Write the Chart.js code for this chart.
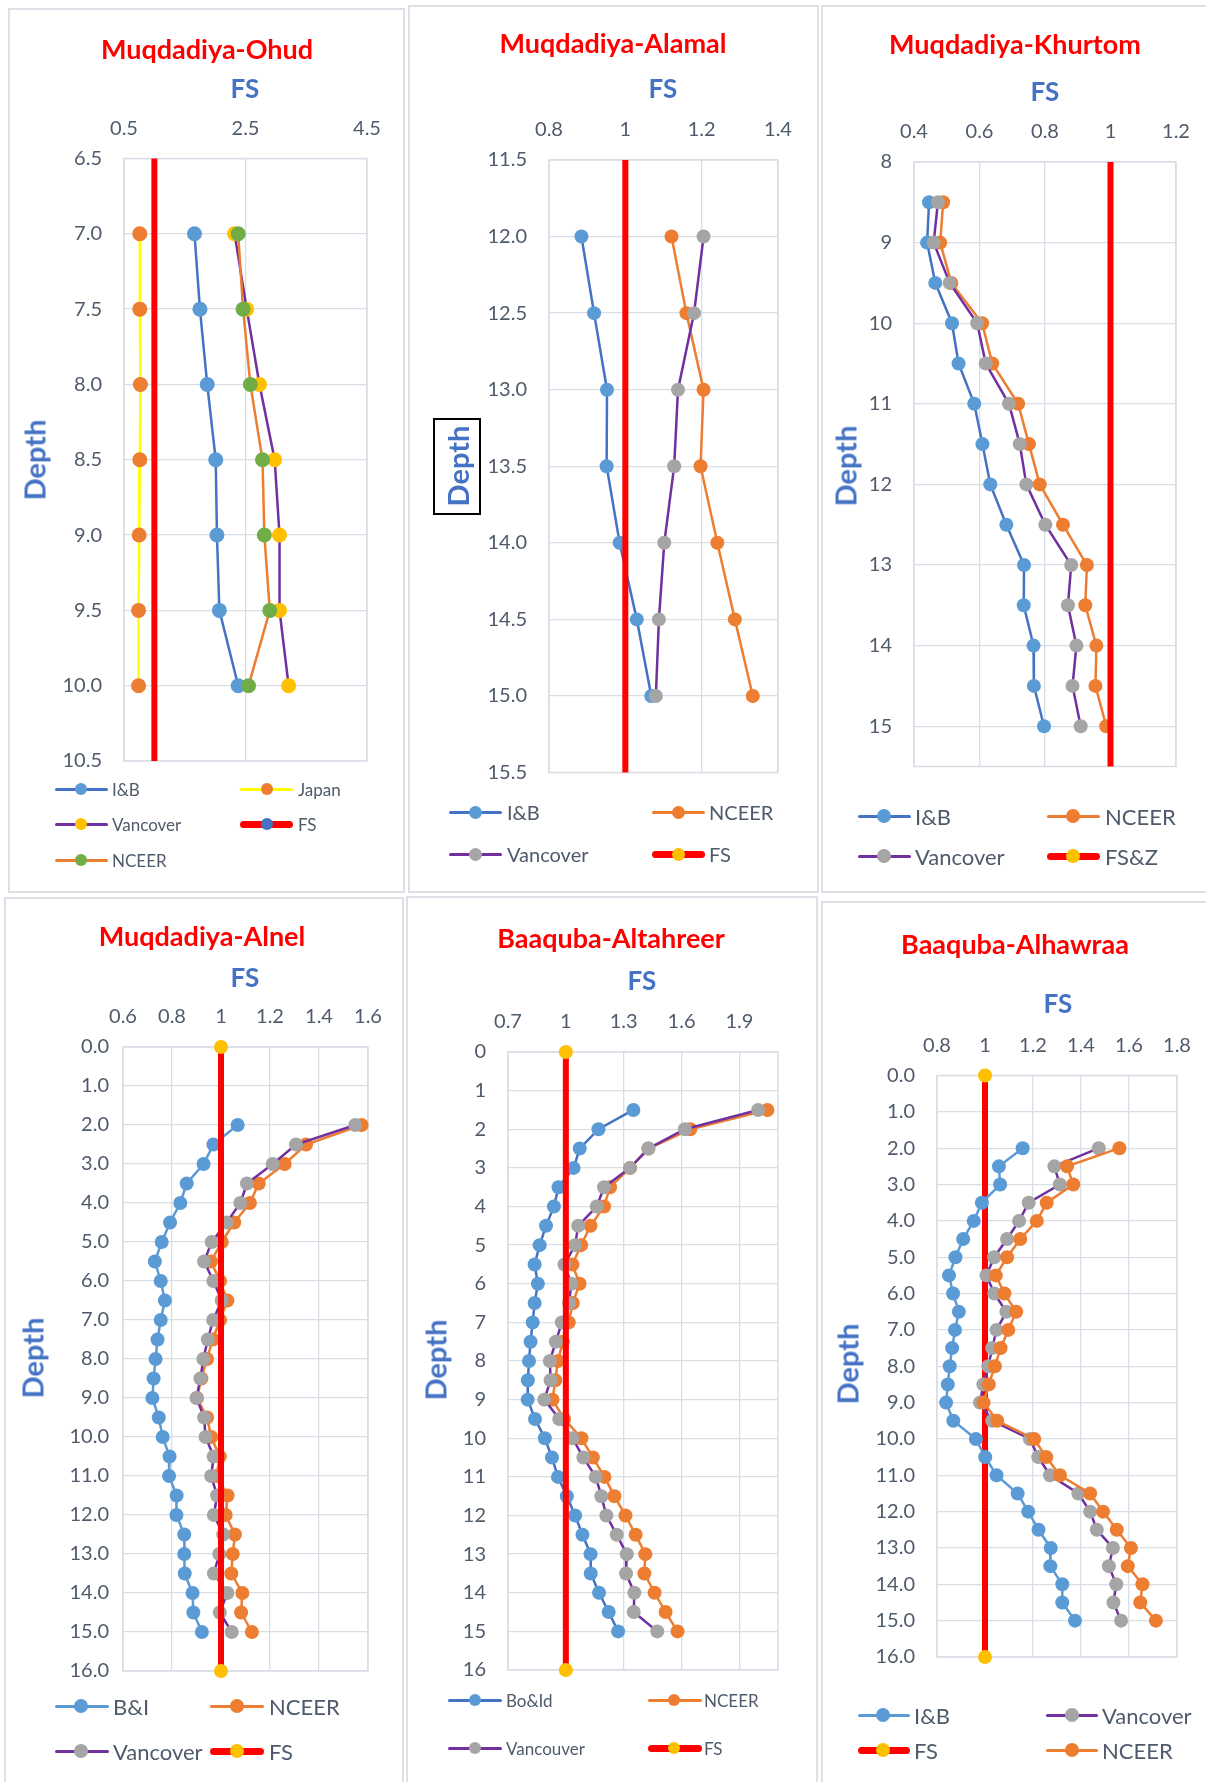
<!DOCTYPE html>
<html>
<head>
<meta charset="utf-8">
<script src="https://cdn.jsdelivr.net/npm/chart.js@4/dist/chart.umd.min.js"></script>
<style>
  html, body { margin: 0; padding: 0; background: #fff; }
  body { width: 1206px; height: 1782px; position: relative; overflow: hidden; font-family: Lato, "Open Sans", sans-serif; }
  .panel { position: absolute; border: 2px solid #DCE0E6; box-sizing: border-box; background: #fff; }
  canvas { position: absolute; }
  .title { position: absolute; transform: translate(-50%, -50%); color: #FF0000; font-weight: bold; font-size: 27px; white-space: nowrap; }
  .axt { position: absolute; transform: translate(-50%, -50%); color: #4472C4; font-weight: bold; font-size: 26px; white-space: nowrap; }
  .dep { position: absolute; transform: translate(-50%, -50%) rotate(-90deg); color: #4472C4; font-weight: bold; font-size: 29px; white-space: nowrap; }
  .depbox { position: absolute; border: 2px solid #000; box-sizing: border-box; }
  .lg { position: absolute; }
  .lgt { position: absolute; transform: translateY(-50%); color: #4F5A6B; white-space: nowrap; }
</style>
</head>
<body>
<script>
// ---------- Muqdadiya-Ohud ----------
const ohudDepth    = [7.0, 7.5, 8.0, 8.5, 9.0, 9.5, 10.0];
const ohudIB       = [1.66, 1.75, 1.87, 2.01, 2.03, 2.07, 2.38];
const ohudJapan    = [0.76, 0.76, 0.77, 0.76, 0.75, 0.74, 0.74];
const ohudVancover = [2.32, 2.52, 2.73, 2.98, 3.06, 3.06, 3.21];
const ohudNCEER    = [2.38, 2.46, 2.58, 2.78, 2.81, 2.90, 2.55];
const ohudFSDepth  = [6.5, 10.5];
const ohudFS       = [1, 1];
const ohudFsTicks    = [0.5, 2.5, 4.5];
const ohudDepthTicks = [6.5, 7.0, 7.5, 8.0, 8.5, 9.0, 9.5, 10.0, 10.5];

// ---------- Muqdadiya-Alamal ----------
const alamalDepth    = [12.0, 12.5, 13.0, 13.5, 14.0, 14.5, 15.0];
const alamalIB       = [0.885, 0.918, 0.952, 0.951, 0.985, 1.030, 1.068];
const alamalNCEER    = [1.121, 1.160, 1.205, 1.197, 1.241, 1.287, 1.334];
const alamalVancover = [1.205, 1.180, 1.138, 1.128, 1.102, 1.088, 1.080];
const alamalFSDepth  = [11.5, 15.5];
const alamalFS       = [1, 1];
const alamalFsTicks    = [0.8, 1, 1.2, 1.4];
const alamalDepthTicks = [11.5, 12.0, 12.5, 13.0, 13.5, 14.0, 14.5, 15.0, 15.5];

// ---------- Muqdadiya-Khurtom ----------
const khurtomDepth    = [8.5, 9.0, 9.5, 10.0, 10.5, 11.0, 11.5, 12.0, 12.5, 13.0, 13.5, 14.0, 14.5, 15.0];
const khurtomIB       = [0.446, 0.440, 0.465, 0.516, 0.536, 0.584, 0.609, 0.633, 0.682, 0.736, 0.735, 0.765, 0.766, 0.797];
const khurtomNCEER    = [0.489, 0.480, 0.514, 0.608, 0.639, 0.718, 0.751, 0.784, 0.855, 0.928, 0.923, 0.957, 0.954, 0.987];
const khurtomVancover = [0.473, 0.460, 0.509, 0.593, 0.619, 0.690, 0.723, 0.743, 0.801, 0.880, 0.870, 0.896, 0.884, 0.909];
const khurtomFSDepth  = [8, 15.5];
const khurtomFS       = [1, 1];
const khurtomFsTicks    = [0.4, 0.6, 0.8, 1, 1.2];
const khurtomDepthTicks = [8, 9, 10, 11, 12, 13, 14, 15];

// ---------- Muqdadiya-Alnel ----------
const alnelDepth    = [2.0, 2.5, 3.0, 3.5, 4.0, 4.5, 5.0, 5.5, 6.0, 6.5, 7.0, 7.5, 8.0, 8.5, 9.0, 9.5, 10.0, 10.5, 11.0, 11.5, 12.0, 12.5, 13.0, 13.5, 14.0, 14.5, 15.0];
const alnelBI       = [1.068, 0.969, 0.929, 0.860, 0.834, 0.792, 0.758, 0.730, 0.754, 0.771, 0.754, 0.741, 0.733, 0.725, 0.720, 0.746, 0.762, 0.790, 0.788, 0.819, 0.818, 0.850, 0.850, 0.852, 0.884, 0.887, 0.922];
const alnelNCEER    = [1.574, 1.347, 1.260, 1.154, 1.118, 1.054, 1.003, 0.959, 0.996, 1.026, 0.996, 0.966, 0.943, 0.920, 0.902, 0.943, 0.960, 0.995, 0.982, 1.027, 1.019, 1.057, 1.048, 1.042, 1.087, 1.082, 1.126];
const alnelVancover = [1.548, 1.306, 1.211, 1.106, 1.079, 1.023, 0.962, 0.931, 0.969, 1.003, 0.968, 0.946, 0.928, 0.916, 0.900, 0.931, 0.937, 0.970, 0.960, 0.984, 0.971, 1.009, 0.993, 0.971, 1.026, 0.995, 1.044];
const alnelFSDepth  = [0, 16];
const alnelFS       = [1, 1];
const alnelFsTicks    = [0.6, 0.8, 1, 1.2, 1.4, 1.6];
const alnelDepthTicks = [0, 1, 2, 3, 4, 5, 6, 7, 8, 9, 10, 11, 12, 13, 14, 15, 16];

// ---------- Baaquba-Altahreer ----------
const tahreerDepth     = [1.5, 2.0, 2.5, 3.0, 3.5, 4.0, 4.5, 5.0, 5.5, 6.0, 6.5, 7.0, 7.5, 8.0, 8.5, 9.0, 9.5, 10.0, 10.5, 11.0, 11.5, 12.0, 12.5, 13.0, 13.5, 14.0, 14.5, 15.0];
const tahreerBoId      = [1.350, 1.169, 1.072, 1.040, 0.962, 0.938, 0.897, 0.864, 0.838, 0.855, 0.838, 0.828, 0.817, 0.809, 0.803, 0.802, 0.840, 0.891, 0.928, 0.959, 1.005, 1.048, 1.086, 1.128, 1.129, 1.172, 1.222, 1.271];
const tahreerNCEER     = [2.045, 1.645, 1.428, 1.333, 1.229, 1.198, 1.128, 1.079, 1.034, 1.071, 1.036, 1.015, 0.984, 0.959, 0.945, 0.931, 0.991, 1.081, 1.140, 1.200, 1.252, 1.309, 1.362, 1.412, 1.407, 1.460, 1.517, 1.579];
const tahreerVancouver = [1.997, 1.617, 1.428, 1.333, 1.198, 1.160, 1.064, 1.048, 0.993, 1.028, 1.017, 0.979, 0.948, 0.917, 0.921, 0.888, 0.966, 1.034, 1.091, 1.155, 1.184, 1.210, 1.264, 1.316, 1.312, 1.355, 1.352, 1.474];
const tahreerFSDepth   = [0, 16];
const tahreerFS        = [1, 1];
const tahreerFsTicks    = [0.7, 1, 1.3, 1.6, 1.9];
const tahreerDepthTicks = [0, 1, 2, 3, 4, 5, 6, 7, 8, 9, 10, 11, 12, 13, 14, 15, 16];

// ---------- Baaquba-Alhawraa ----------
const hawraaDepth    = [2.0, 2.5, 3.0, 3.5, 4.0, 4.5, 5.0, 5.5, 6.0, 6.5, 7.0, 7.5, 8.0, 8.5, 9.0, 9.5, 10.0, 10.5, 11.0, 11.5, 12.0, 12.5, 13.0, 13.5, 14.0, 14.5, 15.0];
const hawraaIB       = [1.157, 1.058, 1.063, 0.987, 0.953, 0.909, 0.877, 0.850, 0.867, 0.891, 0.875, 0.863, 0.853, 0.845, 0.838, 0.868, 0.962, 1.001, 1.048, 1.136, 1.180, 1.223, 1.274, 1.272, 1.322, 1.322, 1.375];
const hawraaNCEER    = [1.560, 1.342, 1.368, 1.257, 1.216, 1.147, 1.092, 1.045, 1.081, 1.130, 1.097, 1.065, 1.041, 1.016, 0.994, 1.051, 1.205, 1.255, 1.312, 1.438, 1.492, 1.549, 1.608, 1.595, 1.656, 1.647, 1.712];
const hawraaVancover = [1.474, 1.289, 1.312, 1.182, 1.142, 1.092, 1.038, 1.006, 1.039, 1.089, 1.048, 1.030, 1.014, 0.993, 0.979, 1.030, 1.187, 1.222, 1.271, 1.389, 1.438, 1.466, 1.533, 1.516, 1.547, 1.535, 1.567];
const hawraaFSDepth  = [0, 16];
const hawraaFS       = [1, 1];
const hawraaFsTicks    = [0.8, 1, 1.2, 1.4, 1.6, 1.8];
const hawraaDepthTicks = [0, 1, 2, 3, 4, 5, 6, 7, 8, 9, 10, 11, 12, 13, 14, 15, 16];

// ---------- styling ----------
const COL = {
  blue: '#4472C4', sky: '#5B9BD5', orange: '#ED7D31', purple: '#7030A0',
  gray: '#A5A5A5', gold: '#FFC000', green: '#70AD47', red: '#FF0000', yellow: '#FFFF00'
};
const GRID = '#D9DEE6';
const TEXT = '#4F5A6B';
const FONT = 'Lato, "Open Sans", sans-serif';
const Y_AXIS_W = 70, X_AXIS_H = 40;

function series(label, fs, depth, lineColor, markColor, opt = {}) {
  return {
    label,
    data: fs.map((v, i) => ({ x: v, y: depth[i] })),
    showLine: true,
    borderColor: lineColor,
    backgroundColor: markColor,
    borderWidth: opt.lw ?? 2.5,
    pointBackgroundColor: markColor,
    pointBorderColor: markColor,
    pointBorderWidth: 0,
    pointRadius: opt.r ?? 7,
    pointHoverRadius: opt.r ?? 7,
    clip: false,
    legendLine: opt.legendLine ?? 3
  };
}
function fsLine(label, fs, depth, markColor, r) {
  return series(label, fs, depth, COL.red, markColor, { lw: 6, r, legendLine: 7 });
}

// thin frame around the plotting area, same tone as the grid
const frame = {
  id: 'frame',
  beforeDatasetsDraw(chart) {
    const a = chart.chartArea, c = chart.ctx;
    c.save();
    c.strokeStyle = GRID;
    c.lineWidth = 1.5;
    c.strokeRect(a.left, a.top, a.right - a.left, a.bottom - a.top);
    c.restore();
  }
};

function addText(cls, text, x, y, extra) {
  const d = document.createElement('div');
  d.className = cls;
  d.textContent = text;
  d.style.left = x + 'px';
  d.style.top = y + 'px';
  if (extra) Object.assign(d.style, extra);
  document.body.appendChild(d);
  return d;
}

function buildPanel(p) {
  const box = document.createElement('div');
  box.className = 'panel';
  Object.assign(box.style, { left: p.rect.x + 'px', top: p.rect.y + 'px', width: p.rect.w + 'px', height: p.rect.h + 'px' });
  document.body.appendChild(box);

  const cv = document.createElement('canvas');
  cv.width = p.rect.w; cv.height = p.rect.h;
  cv.style.left = p.rect.x + 'px'; cv.style.top = p.rect.y + 'px';
  cv.style.width = p.rect.w + 'px'; cv.style.height = p.rect.h + 'px';
  document.body.appendChild(cv);

  const a = p.area;
  const pad = {
    left: a.l - p.rect.x - Y_AXIS_W,
    top: a.t - p.rect.y - X_AXIS_H,
    right: p.rect.x + p.rect.w - a.r,
    bottom: p.rect.y + p.rect.h - a.b
  };

  // drawing order: later entries sit on top
  const n = p.draw.length;
  const datasets = p.draw.map((ds, i) => Object.assign({}, ds, { order: n - 1 - i }));

  new Chart(cv.getContext('2d'), {
    type: 'scatter',
    data: { datasets },
    options: {
      responsive: false,
      animation: false,
      devicePixelRatio: 1,
      layout: { padding: pad },
      plugins: { legend: { display: false }, tooltip: { enabled: false }, title: { display: false } },
      events: [],
      scales: {
        x: {
          type: 'linear', position: 'top', min: p.x.min, max: p.x.max,
          afterBuildTicks: s => { s.ticks = p.x.ticks.map(v => ({ value: v })); },
          afterFit: s => { s.height = X_AXIS_H; },
          ticks: {
            callback: v => p.x.fmt(v), color: TEXT, font: { family: FONT, size: 20 },
            padding: 18, maxRotation: 0, autoSkip: false
          },
          grid: { color: GRID, lineWidth: 1.3, drawTicks: false },
          border: { display: false }
        },
        y: {
          type: 'linear', reverse: true, min: p.y.min, max: p.y.max,
          afterBuildTicks: s => { s.ticks = p.y.ticks.map(v => ({ value: v })); },
          afterFit: s => { s.width = Y_AXIS_W; },
          ticks: {
            callback: v => p.y.fmt(v), color: TEXT, font: { family: FONT, size: 20 },
            padding: p.y.pad ?? 22, autoSkip: false
          },
          grid: { color: GRID, lineWidth: 1.3, drawTicks: false },
          border: { display: false }
        }
      }
    },
    plugins: [frame]
  });

  addText('title', p.title.text, p.title.x, p.title.y);
  addText('axt', 'FS', p.fsTitle.x, p.fsTitle.y);
  if (p.depthBox) {
    const b = document.createElement('div');
    b.className = 'depbox';
    Object.assign(b.style, { left: p.depthBox.x + 'px', top: p.depthBox.y + 'px', width: p.depthBox.w + 'px', height: p.depthBox.h + 'px' });
    document.body.appendChild(b);
  }
  addText('dep', 'Depth', p.depthTitle.x, p.depthTitle.y);

  // legend: short line with a centred marker, then the series name
  const L = p.legend;
  L.items.forEach(([label, row, col]) => {
    const ds = p.draw.find(d => d.label === label);
    const y = L.rows[row], c = L.cols[col];
    const lw = ds.legendLine;
    const ln = document.createElement('div');
    ln.className = 'lg';
    Object.assign(ln.style, {
      left: c.lx + 'px', top: (y - lw / 2) + 'px', width: L.len + 'px', height: lw + 'px',
      background: ds.borderColor, borderRadius: (lw / 2) + 'px'
    });
    document.body.appendChild(ln);
    const dot = document.createElement('div');
    dot.className = 'lg';
    Object.assign(dot.style, {
      left: (c.dot - L.r) + 'px', top: (y - L.r) + 'px', width: (2 * L.r) + 'px', height: (2 * L.r) + 'px',
      background: ds.pointBackgroundColor, borderRadius: '50%'
    });
    document.body.appendChild(dot);
    addText('lgt', label, c.tx, y, { fontSize: L.size + 'px' });
  });
}

const fmt1 = v => v.toFixed(1);
const fmtPlain = v => String(Math.round(v * 10) / 10);

// ---------- panels ----------
const ohudSeries = [
  series('I&B', ohudIB, ohudDepth, COL.blue, COL.sky, { r: 7.5 }),
  series('Japan', ohudJapan, ohudDepth, COL.yellow, COL.orange, { r: 7.5 }),
  series('Vancover', ohudVancover, ohudDepth, COL.purple, COL.gold, { r: 7.5 }),
  fsLine('FS', ohudFS, ohudFSDepth, COL.blue, 0),
  series('NCEER', ohudNCEER, ohudDepth, COL.orange, COL.green, { r: 7.5 })
];
buildPanel({
  rect: { x: 8, y: 8, w: 397, h: 885 },
  area: { l: 124, t: 158.5, r: 367, b: 761 },
  x: { min: 0.5, max: 4.5, ticks: ohudFsTicks, fmt: fmt1 },
  y: { min: 6.5, max: 10.5, ticks: ohudDepthTicks, fmt: fmt1 },
  title: { text: 'Muqdadiya-Ohud', x: 207, y: 48 },
  fsTitle: { x: 245, y: 88 },
  depthTitle: { x: 34, y: 460 },
  draw: ohudSeries,
  legend: {
    size: 17, r: 6, len: 53, rows: [789, 824, 860],
    cols: [{ lx: 55, dot: 81, tx: 112 }, { lx: 240, dot: 267, tx: 298 }],
    items: [['I&B', 0, 0], ['Japan', 0, 1], ['Vancover', 1, 0], ['FS', 1, 1], ['NCEER', 2, 0]]
  }
});

buildPanel({
  rect: { x: 408, y: 5, w: 411, h: 888 },
  area: { l: 549, t: 160, r: 778, b: 772.5 },
  x: { min: 0.8, max: 1.4, ticks: alamalFsTicks, fmt: fmtPlain },
  y: { min: 11.5, max: 15.5, ticks: alamalDepthTicks, fmt: fmt1 },
  title: { text: 'Muqdadiya-Alamal', x: 613, y: 42 },
  fsTitle: { x: 663, y: 88 },
  depthTitle: { x: 457, y: 466 },
  depthBox: { x: 433, y: 418, w: 48, h: 97 },
  draw: [
    series('I&B', alamalIB, alamalDepth, COL.blue, COL.sky),
    series('NCEER', alamalNCEER, alamalDepth, COL.orange, COL.orange),
    series('Vancover', alamalVancover, alamalDepth, COL.purple, COL.gray),
    fsLine('FS', alamalFS, alamalFSDepth, COL.gold, 0)
  ],
  legend: {
    size: 20, r: 6.5, len: 53, rows: [812, 854],
    cols: [{ lx: 449, dot: 475, tx: 507 }, { lx: 652, dot: 678, tx: 709 }],
    items: [['I&B', 0, 0], ['NCEER', 0, 1], ['Vancover', 1, 0], ['FS', 1, 1]]
  }
});

buildPanel({
  rect: { x: 821, y: 5, w: 390, h: 888 },
  area: { l: 914, t: 162, r: 1176, b: 766.5 },
  x: { min: 0.4, max: 1.2, ticks: khurtomFsTicks, fmt: fmtPlain },
  y: { min: 8, max: 15.5, ticks: khurtomDepthTicks, fmt: fmtPlain },
  title: { text: 'Muqdadiya-Khurtom', x: 1015, y: 43 },
  fsTitle: { x: 1045, y: 91 },
  depthTitle: { x: 845, y: 466 },
  draw: [
    series('I&B', khurtomIB, khurtomDepth, COL.blue, COL.sky),
    series('NCEER', khurtomNCEER, khurtomDepth, COL.orange, COL.orange),
    series('Vancover', khurtomVancover, khurtomDepth, COL.purple, COL.gray),
    fsLine('FS&Z', khurtomFS, khurtomFSDepth, COL.gold, 0)
  ],
  legend: {
    size: 22, r: 7, len: 53, rows: [816, 856],
    cols: [{ lx: 858, dot: 884, tx: 915 }, { lx: 1047, dot: 1073, tx: 1105 }],
    items: [['I&B', 0, 0], ['NCEER', 0, 1], ['Vancover', 1, 0], ['FS&Z', 1, 1]]
  }
});

buildPanel({
  rect: { x: 4, y: 897, w: 400, h: 890 },
  area: { l: 123, t: 1047, r: 368, b: 1671 },
  x: { min: 0.6, max: 1.6, ticks: alnelFsTicks, fmt: fmtPlain },
  y: { min: 0, max: 16, ticks: alnelDepthTicks, fmt: fmt1, pad: 14 },
  title: { text: 'Muqdadiya-Alnel', x: 202, y: 935 },
  fsTitle: { x: 245, y: 977 },
  depthTitle: { x: 32, y: 1358 },
  draw: [
    series('B&I', alnelBI, alnelDepth, COL.sky, COL.sky),
    series('NCEER', alnelNCEER, alnelDepth, COL.orange, COL.orange),
    series('Vancover', alnelVancover, alnelDepth, COL.purple, COL.gray),
    fsLine('FS', alnelFS, alnelFSDepth, COL.gold, 7)
  ],
  legend: {
    size: 22, r: 7, len: 54, rows: [1706, 1751],
    cols: [{ lx: 55, dot: 81, tx: 113 }, { lx: 210, dot: 237, tx: 269 }],
    items: [['B&I', 0, 0], ['NCEER', 0, 1], ['Vancover', 1, 0], ['FS', 1, 1]]
  }
});

buildPanel({
  rect: { x: 406, y: 896, w: 412, h: 890 },
  area: { l: 508, t: 1052, r: 778, b: 1670 },
  x: { min: 0.7, max: 2.1, ticks: tahreerFsTicks, fmt: fmtPlain },
  y: { min: 0, max: 16, ticks: tahreerDepthTicks, fmt: fmtPlain },
  title: { text: 'Baaquba-Altahreer', x: 611, y: 937 },
  fsTitle: { x: 642, y: 980 },
  depthTitle: { x: 435, y: 1360 },
  draw: [
    series('Bo&Id', tahreerBoId, tahreerDepth, COL.blue, COL.sky),
    series('NCEER', tahreerNCEER, tahreerDepth, COL.orange, COL.orange),
    series('Vancouver', tahreerVancouver, tahreerDepth, COL.purple, COL.gray),
    fsLine('FS', tahreerFS, tahreerFSDepth, COL.gold, 7)
  ],
  legend: {
    size: 17, r: 6, len: 54, rows: [1700, 1748],
    cols: [{ lx: 448, dot: 475, tx: 506 }, { lx: 648, dot: 674, tx: 704 }],
    items: [['Bo&Id', 0, 0], ['NCEER', 0, 1], ['Vancouver', 1, 0], ['FS', 1, 1]]
  }
});

buildPanel({
  rect: { x: 821, y: 901, w: 390, h: 885 },
  area: { l: 937, t: 1075.5, r: 1177, b: 1657 },
  x: { min: 0.8, max: 1.8, ticks: hawraaFsTicks, fmt: fmtPlain },
  y: { min: 0, max: 16, ticks: hawraaDepthTicks, fmt: fmt1 },
  title: { text: 'Baaquba-Alhawraa', x: 1015, y: 943 },
  fsTitle: { x: 1058, y: 1003 },
  depthTitle: { x: 847, y: 1364 },
  draw: [
    fsLine('FS', hawraaFS, hawraaFSDepth, COL.gold, 7),
    series('I&B', hawraaIB, hawraaDepth, COL.sky, COL.sky),
    series('Vancover', hawraaVancover, hawraaDepth, COL.purple, COL.gray),
    series('NCEER', hawraaNCEER, hawraaDepth, COL.orange, COL.orange)
  ],
  legend: {
    size: 22, r: 7, len: 52, rows: [1715, 1750],
    cols: [{ lx: 858, dot: 883, tx: 914 }, { lx: 1046, dot: 1072, tx: 1102 }],
    items: [['I&B', 0, 0], ['Vancover', 0, 1], ['FS', 1, 0], ['NCEER', 1, 1]]
  }
});
</script>
</body>
</html>
